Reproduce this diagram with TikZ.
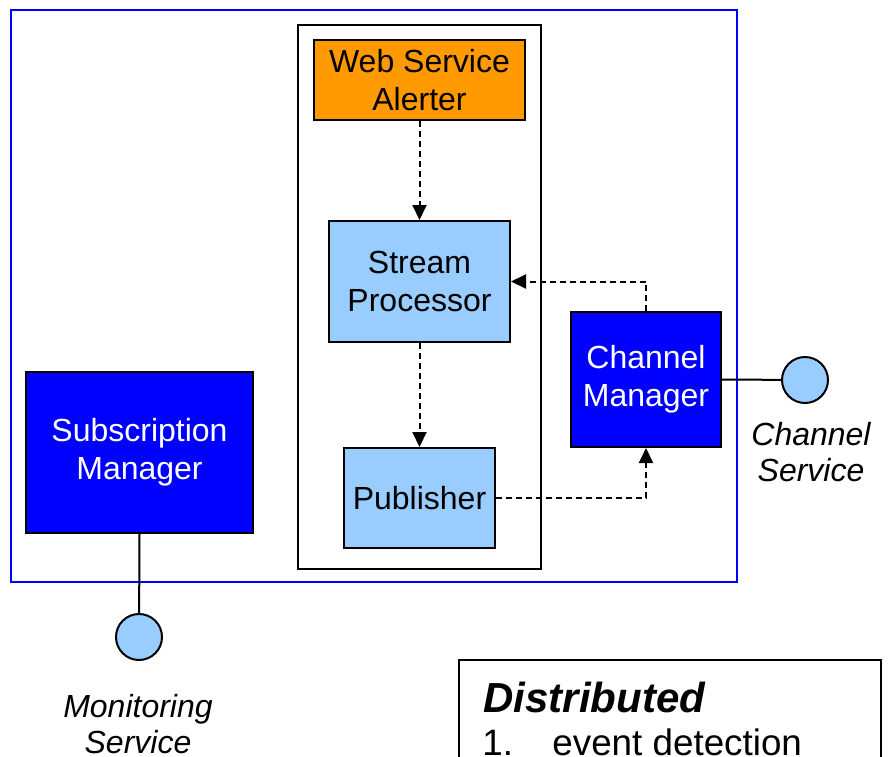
\documentclass[tikz,border=0pt]{standalone}
\usepackage{fontspec}
\setmainfont{Liberation Sans}
\usetikzlibrary{calc}
\usetikzlibrary{arrows.meta}
\usetikzlibrary{positioning}
\definecolor{sky-blue}{HTML}{99CCFF}
\definecolor{alert-orange}{HTML}{FF9900}
\definecolor{pure-blue}{HTML}{0000FF}

\begin{document}
\begin{tikzpicture}
  [
    x=0.5pt, y=-0.5pt,
    box/.style = {draw, line width=1pt, align=center, inner sep=0pt,
                  font=\fontsize{16}{19}\selectfont},
    manager/.style = {box, fill=pure-blue, text=white},
    stage/.style = {box, fill=sky-blue},
    port/.style = {draw, line width=1pt, circle, fill=sky-blue, inner sep=0pt, minimum size=23pt},
    portlabel/.style = {align=center, font=\fontsize{16}{18}\selectfont\itshape},
    flow/.style = {dashed, dash pattern=on 3pt off 2pt, line width=1pt,
                   -{Triangle[length=7.5pt, width=7pt]}}
  ]
% Page (x, y) in pixels
\useasboundingbox (0, 0) rectangle (888, 756);
\clip (0, 0) rectangle (888, 756);

% ---------------------------------------------------
% Containers
\draw[pure-blue, line width=1pt] (11, 10) rectangle (737, 582);
\draw[line width=1pt] (298, 25) rectangle (541, 569);

% Components
\node[box, fill=alert-orange, minimum width=105.5pt, minimum height=40pt] (alerter)
     at (419.5, 80) {Web Service\\Alerter};
\node[stage, minimum width=90.5pt, minimum height=60.5pt] (stream)
     at (419.5, 281.5) {Stream\\Processor};
\node[stage, minimum width=75.5pt, minimum height=50pt] (publisher)
     at (419.5, 498) {Publisher};
\node[manager, minimum width=75pt, minimum height=67.5pt] (channel)
     at (646, 379.5) {Channel\\Manager};
\node[manager, minimum width=113.5pt, minimum height=80.5pt] (subscription)
     at (139.5, 452.5) {Subscription\\Manager};

% Ports
\node[port] (channelport) at (805, 380) {};
\node[portlabel] (channellabel) at (811, 452) {Channel\\Service};
\node[port] (monitorport) at (139, 637) {};
\node[portlabel] (monitorlabel) at (138, 724) {Monitoring\\Service};

\path[] (channel.east)
        edge[line width=1pt] (channelport);
\path[] (subscription.south)
        edge[line width=1pt] (monitorport);

% ---------------------------------------------------
% Event flow
\path[] (alerter)
        edge[flow] (stream);
\path[] (stream)
        edge[flow] (publisher);
\draw[flow] (publisher.east) -| (channel.south);
\draw[flow] (channel.north) |- (stream.east);

% ---------------------------------------------------
% Legend (cut by the page)
\draw[line width=1pt] (459, 660) rectangle (881, 800);
\node[anchor=base west, inner sep=0pt, font=\fontsize{21}{24}\selectfont\bfseries\itshape]
     (legendhead) at (483, 712) {Distributed};
\node[anchor=base west, inner sep=0pt, font=\fontsize{18.4}{22}\selectfont]
     (legendone) at (482, 755) {1.};
\node[anchor=base west, inner sep=0pt, font=\fontsize{18.4}{22}\selectfont]
     (legendtext) at (552, 755) {event detection};
\end{tikzpicture}
\end{document}
